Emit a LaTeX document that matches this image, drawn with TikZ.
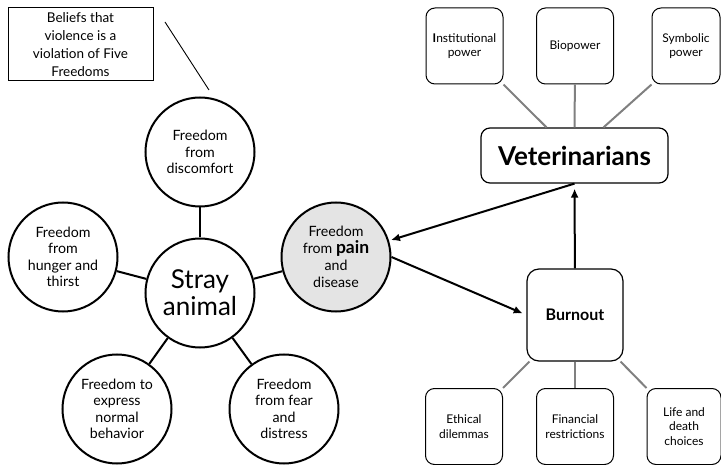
\documentclass[tikz,border=0pt]{standalone}
\usepackage{fontspec}
\setmainfont{Lato}
\usetikzlibrary{arrows.meta, positioning}

\definecolor{linegray}{HTML}{808080}
\definecolor{painfill}{HTML}{E4E4E4}

\begin{document}
\begin{tikzpicture}[x=1pt, y=-1pt,
   freedom/.style={circle, draw, line width=2pt, minimum size=109pt, inner sep=0pt, align=center, font=\fontsize{14.2}{16.5}\selectfont},
   power/.style={rectangle, rounded corners=9pt, draw, line width=1pt, minimum width=77pt, minimum height=76pt, inner sep=1pt, align=center, font=\fontsize{12}{14.5}\selectfont},
   link/.style={line width=2pt},
   glink/.style={line width=2pt, color=linegray},
   arr/.style={line width=2pt, -{Latex[length=9pt, width=8pt]}}]
   \useasboundingbox (0,0) rectangle (721,465);
   \node[draw, line width=1pt, minimum width=145pt, minimum height=73pt, align=center, font=\fontsize{13.5}{18}\selectfont] (belief) at (80.5,44.5) {Beliefs that\\violence is a\\violation of Five\\Freedoms};
   \node[freedom] (disc) at (200,152) {Freedom\\from\\discomfort};
   \node[freedom, font=\fontsize{26}{27}\selectfont] (stray) at (200,293) {Stray\\animal};
   \node[freedom] (hunger) at (63,257) {Freedom\\from\\hunger and\\thirst};
   \node[freedom, fill=painfill, font=\fontsize{14.2}{17}\selectfont] (pain) at (336,257) {Freedom\\from {\fontsize{17.5}{17}\selectfont\bfseries pain}\\and\\disease};
   \node[freedom] (behav) at (117,409) {Freedom to\\express\\normal\\behavior};
   \node[freedom] (fear) at (284,409) {Freedom\\from fear\\and\\distress};
   \node[power] (inst) at (464.5,46) {\textbf{I}nstitutional\\power};
   \node[power] (bio) at (575,46) {Biopower};
   \node[power, minimum width=68pt] (symb) at (686,46) {Symbolic\\power};
   \node[power, line width=1.2pt, minimum width=187pt, minimum height=55pt, font=\fontsize{26}{28}\selectfont\bfseries] (vet) at (574.5,155.5) {Veterinarians};
   \node[power, line width=1.2pt, minimum width=96pt, minimum height=92pt, rounded corners=12pt, font=\fontsize{16}{18}\selectfont\bfseries] (burn) at (575,315) {Burnout};
   \node[power] (eth) at (464,426.5) {Ethical\\dilemmas};
   \node[power] (fin) at (575,426.5) {Financial\\restrictions};
   \node[power, minimum width=74pt] (life) at (684,426.5) {Life and\\death\\choices};
   \coordinate (callA) at (165,22);
   \coordinate (callB) at (209,90);
   \draw[line width=0.9pt] (callA) -- (callB);
   \draw[link] (stray) -- (disc);
   \draw[link] (stray) -- (hunger);
   \draw[link] (stray) -- (pain);
   \draw[link] (stray) -- (behav);
   \draw[link] (stray) -- (fear);
   \draw[glink] (inst.south east) -- ([xshift=-28pt]vet.north);
   \draw[glink] (bio) -- (vet);
   \draw[glink] (symb.south west) -- ([xshift=29pt]vet.north);
   \draw[glink] ([xshift=3pt]burn.south west) -- (eth.north east);
   \draw[glink] (burn) -- (fin);
   \draw[glink] ([xshift=-3pt]burn.south east) -- (life.north west);
   \draw[arr, shorten >=5pt] (burn) -- (vet);
   \draw[arr, shorten >=2pt] (vet.south) -- (pain);
   \draw[arr, shorten >=4pt] (pain.east) -- (burn.west);
\end{tikzpicture}
\end{document}
